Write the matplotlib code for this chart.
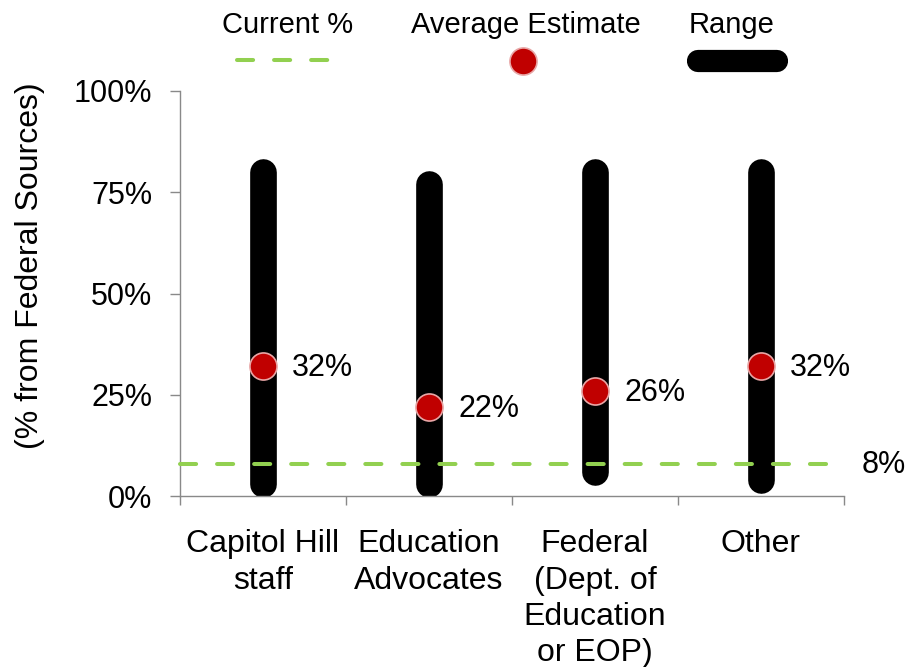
import matplotlib
matplotlib.use('Agg')
import matplotlib.pyplot as plt
from matplotlib.lines import Line2D
import numpy as np

plt.rcParams['font.family'] = ['Liberation Sans', 'DejaVu Sans']

# data
categories = ['Capitol Hill\nstaff', 'Education\nAdvocates',
              'Federal\n(Dept. of\nEducation\nor EOP)', 'Other']
range_low = [0.03, 0.03, 0.06, 0.04]
range_high = [0.80, 0.77, 0.80, 0.80]
average_est = [0.32, 0.22, 0.26, 0.32]
current_pct = 0.08
yticks = [0, 0.25, 0.5, 0.75, 1.0]

RED = '#C00000'
GREEN = '#92D050'
GREY = '#898989'

fig = plt.figure(figsize=(9.08, 6.67), dpi=100)
ax = fig.add_axes([180 / 908, 1 - 496 / 667, 664 / 908, 405 / 667])

x = np.arange(len(categories))

# range bars
ax.vlines(x, range_low, range_high, colors='black', linewidth=19.2,
          capstyle='round', zorder=2)
# current % line
ax.plot([-0.5, len(categories) - 0.5], [current_pct, current_pct],
        color=GREEN, linewidth=2.9, linestyle=(0, (4, 5.2)),
        dash_capstyle='round', zorder=3, clip_on=False)
# average estimates
ax.plot(x, average_est, 'o', color=RED, markersize=19.5,
        markeredgecolor='#E8A6A6', markeredgewidth=1.2, zorder=4)

for xi, v in zip(x, average_est):
    ax.annotate(f'{v:.0%}', xy=(xi, v), xytext=(21, -1.5),
                textcoords='offset points', va='center', ha='left',
                fontsize=22)
ax.annotate(f'{current_pct:.0%}', xy=(len(categories) - 0.5, current_pct),
            xytext=(13, -1), textcoords='offset points', va='center',
            ha='left', fontsize=22, annotation_clip=False)

ax.set_xlim(-0.5, len(categories) - 0.5)
ax.set_ylim(0, 1)
ax.set_yticks(yticks)
ax.set_yticklabels([f'{t:.0%}' for t in yticks], fontsize=22)
ax.set_xticks(x)
ax.set_xticklabels(categories, fontsize=23, linespacing=1.27)
ax.set_xticks(np.arange(-0.5, len(categories)), minor=True)
ax.tick_params(axis='x', which='major', length=0, pad=24)
ax.tick_params(axis='x', which='minor', length=6.5, width=1, color=GREY,
               direction='out')
ax.tick_params(axis='y', length=7, width=1, color=GREY, pad=13)

for side in ['top', 'right']:
    ax.spines[side].set_visible(False)
for side in ['left', 'bottom']:
    ax.spines[side].set_color(GREY)
    ax.spines[side].set_linewidth(1)

fig.text(30 / 908, 1 - 266 / 667, '(% from Federal Sources)', rotation=90,
         ha='center', va='center', fontsize=23)

# custom legend on top
def fx(px):
    return px / 908

def fy(py):
    return 1 - py / 667

fig.text(fx(288), fy(25), 'Current %', ha='center', va='center', fontsize=21)
fig.text(fx(526), fy(25), 'Average Estimate', ha='center', va='center', fontsize=21)
fig.text(fx(732), fy(25), 'Range', ha='center', va='center', fontsize=21)

fig.add_artist(Line2D([fx(237), fx(330)], [fy(60), fy(60)], color=GREEN,
                      linewidth=2.9, linestyle=(0, (4, 5.2)),
                      dash_capstyle='round', transform=fig.transFigure))
fig.add_artist(Line2D([fx(523)], [fy(61)], marker='o', color=RED,
                      markersize=19.5, markeredgecolor='#E8A6A6',
                      markeredgewidth=1.2, linestyle='none',
                      transform=fig.transFigure))
fig.add_artist(Line2D([fx(698), fx(777)], [fy(61), fy(61)], color='black',
                      linewidth=16, solid_capstyle='round',
                      transform=fig.transFigure))

fig.savefig('out.png', dpi=100, facecolor='white')
